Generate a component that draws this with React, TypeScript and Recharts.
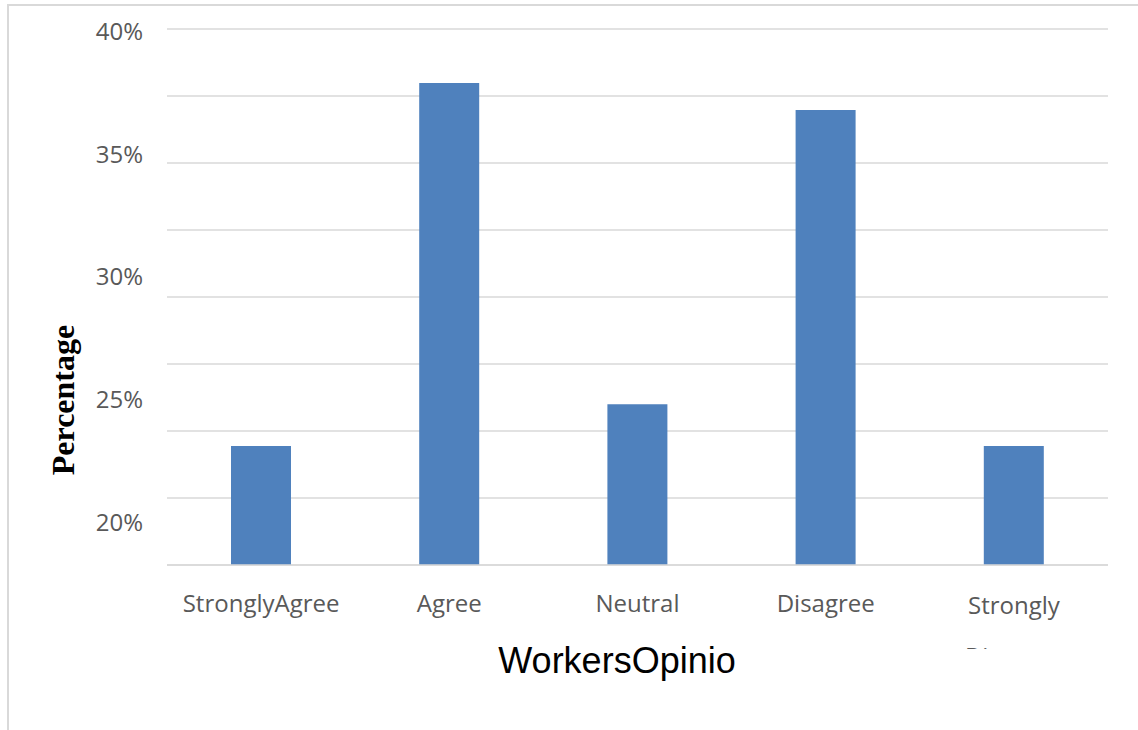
import React from "react";
import {
  BarChart,
  Bar,
  XAxis,
  YAxis,
  CartesianGrid,
  Label,
} from "recharts";

const categories = ["StronglyAgree", "Agree", "Neutral", "Disagree", "Strongly Disagree"];
const percentages = [23.1, 37.9, 24.8, 36.8, 23.1];
const yTicks = [20, 25, 30, 35, 40];
// the gridlines in the original are evenly spaced and do not line up with the labels
const GRID_LINES = 9;

const data = categories.map((name, i) => ({ name, value: percentages[i] }));

const TICK_FONT = "'Open Sans', 'Noto Sans', sans-serif";

interface TickProps {
  x?: number;
  y?: number;
  payload?: { value: string };
}

// Excel wraps the long label and clips the second line
function CategoryTick({ x = 0, y = 0, payload }: TickProps) {
  const label = payload?.value ?? "";
  const words = label.split(" ");
  const id = `clip-${label.replace(/\s/g, "")}`;
  const common = {
    textAnchor: "middle" as const,
    fill: "#595959",
    fontSize: 24,
    fontFamily: TICK_FONT,
  };
  if (words.length === 1) {
    return (
      <text x={x} y={y + 39} {...common}>
        {label}
      </text>
    );
  }
  return (
    <g>
      <clipPath id={id}>
        <rect x={x - 90} y={y} width={180} height={76} />
      </clipPath>
      <text x={x} y={y + 41} {...common}>
        {words[0]}
      </text>
      <text x={x} y={y + 92} {...common} clipPath={`url(#${id})`}>
        {words.slice(1).join(" ")}
      </text>
    </g>
  );
}

export default function App() {
  return (
    <div
      style={{
        position: "absolute",
        left: 0,
        top: 0,
        width: 1138,
        height: 730,
        background: "#fff",
        overflow: "hidden",
      }}
    >
      <div
        style={{
          position: "absolute",
          left: 7,
          top: 4,
          width: 1140,
          height: 740,
          borderLeft: "2px solid #d9d9d9",
          borderTop: "2px solid #d9d9d9",
        }}
      />
      <div style={{ position: "absolute", left: 0, top: 0 }}>
        <BarChart
          width={1138}
          height={730}
          data={data}
          margin={{ top: 29, right: 30, bottom: 65, left: 0 }}
        >
          <CartesianGrid
            vertical={false}
            stroke="#d9d9d9"
            strokeWidth={1.5}
            horizontalCoordinatesGenerator={({ offset }: any) =>
              Array.from({ length: GRID_LINES }, (_, i) =>
                offset.top + (offset.height * i) / (GRID_LINES - 1)
              )
            }
          />
          <XAxis
            dataKey="name"
            height={100}
            tickLine={false}
            axisLine={{ stroke: "#d9d9d9", strokeWidth: 1.5 }}
            tick={<CategoryTick />}
            interval={0}
          >
            <Label
              content={() => (
                <text
                  x={617}
                  y={673}
                  textAnchor="middle"
                  fill="#000"
                  fontSize={36}
                  fontFamily="'Liberation Sans', Arial, sans-serif"
                >
                  WorkersOpinio
                </text>
              )}
            />
          </XAxis>
          <YAxis
            type="number"
            domain={[18.25, 40.1]}
            ticks={yTicks}
            allowDataOverflow
            width={167}
            axisLine={false}
            tickLine={false}
            tickSize={0}
            tickMargin={24}
            tickFormatter={(v: number) => `${v}%`}
            tick={{ fill: "#595959", fontSize: 24, fontFamily: TICK_FONT }}
          >
            <Label
              content={() => (
                <text
                  x={74}
                  y={400}
                  transform="rotate(-90 74 400)"
                  textAnchor="middle"
                  fill="#000"
                  fontSize={32}
                  fontWeight="bold"
                  fontFamily="'Liberation Serif', 'Times New Roman', serif"
                >
                  Percentage
                </text>
              )}
            />
          </YAxis>
          <Bar
            dataKey="value"
            fill="#4f81bd"
            barSize={60}
            isAnimationActive={false}
          />
        </BarChart>
      </div>
    </div>
  );
}
